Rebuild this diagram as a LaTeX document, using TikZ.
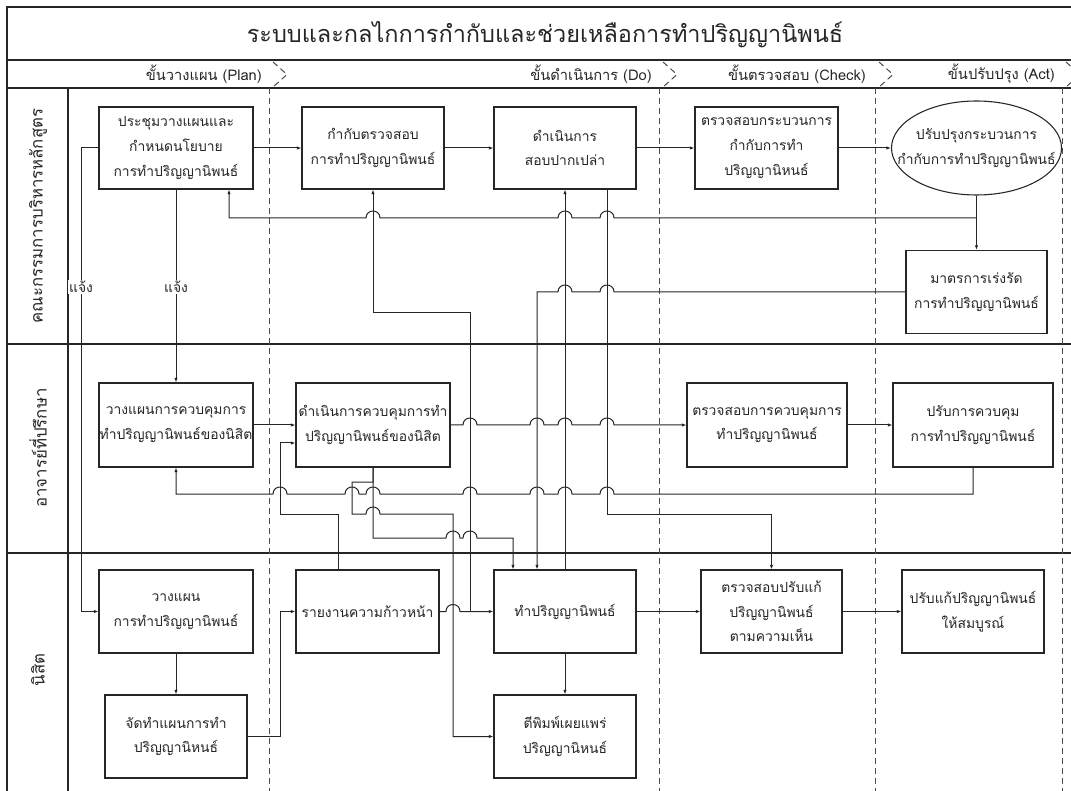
\documentclass[tikz,border=0pt]{standalone}
\usepackage{fontspec}
\setmainfont[Script=Thai]{Loma}
\usetikzlibrary{arrows.meta,shapes.geometric}
\newcommand\hr[2]{-- ({#1-7},#2) .. controls ({#1-7},{#2-9.3}) and ({#1+7},{#2-9.3}) .. ({#1+7},#2)}
\newcommand\hl[2]{-- ({#1+7},#2) .. controls ({#1+7},{#2-9.3}) and ({#1-7},{#2-9.3}) .. ({#1-7},#2)}
\begin{document}
\begin{tikzpicture}[x=0.75pt,y=-0.75pt,
  txt/.style={font=\fontsize{10.4}{18.5}\selectfont, text=black!85, align=center},
  box/.style={txt, draw=black!85, line width=0.8pt, fill=white, inner sep=0pt, minimum height=83*0.75pt},
  frame/.style={draw=black!85, line width=1.3pt},
  dsh/.style={draw=black!70, line width=0.75pt, dash pattern=on 4.5pt off 3pt},
  arr/.style={draw=black!85, line width=0.75pt, -{Latex[length=3.5pt,width=2.6pt]}},
  lbl/.style={txt, fill=white, inner sep=1pt},
  phase/.style={font=\fontsize{11}{13}\selectfont, text=black!85, anchor=east, inner sep=0pt},
  lane/.style={font=\fontsize{12.6}{15}\selectfont, text=black!85, rotate=90}]
\useasboundingbox (0,0) rectangle (1071,791);
\clip (0,0) rectangle (1071,791);
\fill[white] (0,0) rectangle (1071,791);
% frame
\draw[frame] (1080,7) -- (7,7) -- (7,800);
\draw[frame] (7,60) -- (1080,60);
\draw[frame] (7,88) -- (1080,88);
\draw[frame] (7,344) -- (1080,344);
\draw[frame] (7,553) -- (1080,553);
\draw[frame] (68,88) -- (68,800);
% title and phases
\node[font=\fontsize{17.6}{22}\selectfont, text=black!85] (title) at (545,35) {ระบบและกลไกการกำกับและช่วยเหลือการทำปริญญานิพนธ์};
\node[phase] (p1) at (262,74) {ขั้นวางแผน (Plan)};
\node[phase] (p2) at (652,74) {ขั้นดำเนินการ (Do)};
\node[phase] (p3) at (866,74) {ขั้นตรวจสอบ (Check)};
\node[phase] (p4) at (1055,74) {ขั้นปรับปรุง (Act)};
\foreach \d in {269,659,875,1062}{
  \draw[dsh] (\d,88) -- (\d,800);
  \draw[dsh] ({\d+4},62) -- ({\d+18},74.5) -- ({\d+4},87);
}
% lane labels
\node[lane] (l1) at (38,216) {คณะกรรมการบริหารหลักสูตร};
\node[lane] (l2) at (38,448) {อาจารย์ที่ปรึกษา};
\node[lane] (l3) at (38,670) {นิสิต};
% boxes lane 1
\node[box, minimum width=154*0.75pt, minimum height=82*0.75pt] (b1) at (176,148) {ประชุมวางแผนและ\\กำหนดนโยบาย\\การทำปริญญานิพนธ์};
\node[box, minimum width=142*0.75pt, minimum height=82*0.75pt] (b2) at (373,148) {กำกับตรวจสอบ\\การทำปริญญานิพนธ์};
\node[box, minimum width=142*0.75pt, minimum height=82*0.75pt] (b3) at (565,148) {ดำเนินการ\\สอบปากเปล่า};
\node[box, minimum width=143*0.75pt, minimum height=82*0.75pt] (b4) at (766.5,148) {ตรวจสอบกระบวนการ\\กำกับการทำ\\ปริญญานิหนธ์};
\node[draw=black!85, line width=0.8pt, fill=white, ellipse, inner sep=0pt, minimum width=170*0.75pt, minimum height=94*0.75pt] (el) at (976.5,148) {};
\node[txt] (elt) at (976.5,148) {ปรับปรุงกระบวนการ\\กำกับการทำปริญญานิพนธ์};
\node[box, minimum width=141*0.75pt] (b5) at (976.5,292) {มาตรการเร่งรัด\\การทำปริญญานิพนธ์};
% boxes lane 2
\node[box, minimum width=154*0.75pt, minimum height=84*0.75pt] (b6) at (176,425) {วางแผนการควบคุมการ\\ทำปริญญานิพนธ์ของนิสิต};
\node[box, minimum width=154*0.75pt, minimum height=84*0.75pt] (b7) at (373,425) {ดำเนินการควบคุมการทำ\\ปริญญานิพนธ์ของนิสิต};
\node[box, minimum width=160*0.75pt, minimum height=84*0.75pt] (b8) at (767,425) {ตรวจสอบการควบคุมการ\\ทำปริญญานิพนธ์};
\node[box, minimum width=160*0.75pt, minimum height=84*0.75pt] (b9) at (973,425) {ปรับการควบคุม\\การทำปริญญานิพนธ์};
% boxes lane 3
\node[box, minimum width=154*0.75pt] (b10) at (176,611.5) {วางแผน\\การทำปริญญานิพนธ์};
\node[box, minimum width=142*0.75pt] (b11) at (176,736.5) {จัดทำแผนการทำ\\ปริญญานิหนธ์};
\node[box, minimum width=143*0.75pt] (b12) at (367.5,611.5) {รายงานความก้าวหน้า};
\node[box, minimum width=142*0.75pt] (b13) at (565,611.5) {ทำปริญญานิพนธ์};
\node[box, minimum width=142*0.75pt] (b14) at (565,736.5) {ตีพิมพ์เผยแพร่\\ปริญญานิหนธ์};
\node[box, minimum width=141*0.75pt] (b15) at (771.5,611.5) {ตรวจสอบปรับแก้\\ปริญญานิพนธ์\\ตามความเห็น};
\node[box, minimum width=142*0.75pt] (b16) at (973,611.5) {ปรับแก้ปริญญานิพนธ์\\ให้สมบูรณ์};
% connectors lane 1
\draw[arr] (b1) -- (b2);
\draw[arr] (b2) -- (b3);
\draw[arr] (b3) -- (b4);
\draw[arr] (b4) -- (el);
\draw[arr] (el) -- (b5);
\coordinate (j1) at (976.5,218);
\draw[arr] (j1) \hl{607}{218} \hl{565}{218} \hl{373}{218} -- (229,218) -- (b1.south -| 229,218);
\draw[arr] (b5.west) \hl{607}{292} \hl{565}{292} -- (537,292) -- (b13.north -| 537,0);
\coordinate (j2) at (470,611.5);
\draw[arr] (b12.east) \hr{453}{611.5} -- (b13.west);
\draw[arr] (j2) -- (470,313) -- (373,313) -- (b2.south);
\draw[arr] (b13.north) -- (b3.south);
\draw[arr] (b3.south -| 607,0) -- (607,514) -- (771.5,514) -- (b15.north);
\draw[arr] (b1.west) -- (81,148) -- (81,611.5) -- (b10.west);
\draw[arr] (b1.south) -- (b6.north);
\node[lbl] (n1) at (81,287) {แจ้ง};
\node[lbl] (n2) at (176,287) {แจ้ง};
% lane 2
\draw[arr] (b6) -- (b7);
\draw[arr] (b7.east) \hr{470}{425} \hr{537}{425} \hr{565}{425} \hr{607}{425} -- (b8.west);
\draw[arr] (b8) -- (b9);
\draw[arr] (b9.south) -- (973,494) \hl{607}{494} \hl{565}{494} \hl{537}{494} \hl{470}{494} \hl{373}{494} \hl{352}{494} \hl{280}{494} -- (176,494) -- (b6.south);
\draw[arr] (b12.north -| 338,0) -- (338,514) -- (280,514) -- (280,443) -- (b7.west |- 0,443);
\draw[arr] (b7.south) -- (373,482) -- (352,482) -- (352,514) \hr{373}{514} -- (453,514) -- (453,736.5) -- (b14.west);
\draw[arr] (b7.south) -- (373,538) \hr{453}{538} \hr{470}{538} -- (513,538) -- (b13.north -| 513,0);
% lane 3
\draw[arr] (b10) -- (b11);
\draw[arr] (b11.east) -- (280,736.5) -- (280,611.5) -- (b12.west);
\draw[arr] (b13) -- (b14);
\draw[arr] (b13) -- (b15);
\draw[arr] (b15) -- (b16);
\end{tikzpicture}
\end{document}
